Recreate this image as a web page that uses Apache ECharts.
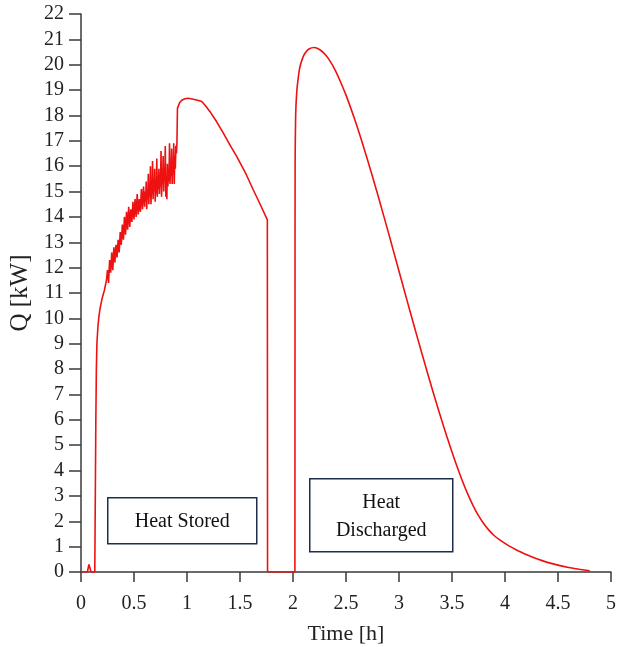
<!DOCTYPE html>
<html>
<head>
<meta charset="utf-8">
<script src="https://cdn.jsdelivr.net/npm/echarts@6/dist/echarts.min.js"></script>
<style>
html, body { margin: 0; padding: 0; background: #fff; }
#chart_q { width: 626px; height: 647px; }
</style>
</head>
<body>
<div id="chart_q"></div>
<script>
// 蓄热阶段 [时间 h, Q kW]
var storedData = [
	[0, 0], [0.06, 0], [0.075, 0.3], [0.085, 0.25], [0.095, 0], [0.13, 0], [0.135, 3], [0.14, 6],
	[0.145, 8], [0.15, 9], [0.16, 9.7], [0.17, 10.1], [0.18, 10.4], [0.2, 10.8], [0.22, 11.1], [0.24, 11.5],
	[0.25, 11.9], [0.26, 11.4], [0.27, 12.3], [0.28, 11.8], [0.29, 12.6], [0.30, 11.9], [0.31, 12.8],
	[0.32, 12.2], [0.33, 12.9], [0.34, 12.4], [0.35, 13.1], [0.36, 12.6], [0.37, 13.4], [0.38, 12.9],
	[0.39, 13.7], [0.40, 13.1], [0.41, 14.0], [0.42, 13.3], [0.43, 14.2], [0.44, 13.5], [0.45, 14.4],
	[0.46, 13.6], [0.47, 14.3], [0.48, 13.8], [0.49, 14.6], [0.50, 13.9], [0.51, 14.7], [0.52, 14.0],
	[0.53, 14.9], [0.54, 14.1], [0.55, 14.7], [0.56, 14.2], [0.57, 15.1], [0.58, 14.3], [0.59, 15.2],
	[0.600, 14.4], [0.605, 15.0], [0.610, 14.6], [0.615, 15.4], [0.620, 14.3], [0.625, 15.1],
	[0.630, 14.7], [0.635, 15.7], [0.640, 14.5], [0.645, 15.3], [0.650, 14.8], [0.655, 16.0],
	[0.660, 14.5], [0.665, 15.2], [0.670, 14.9], [0.675, 16.2], [0.680, 14.7], [0.685, 15.5],
	[0.690, 15.0], [0.695, 15.9], [0.700, 14.6], [0.705, 15.4], [0.710, 14.9], [0.715, 16.3],
	[0.720, 14.8], [0.725, 15.6], [0.730, 15.1], [0.735, 15.9], [0.740, 14.9], [0.745, 15.5],
	[0.750, 15.2], [0.755, 16.6], [0.760, 14.8], [0.765, 15.7], [0.770, 15.3], [0.775, 16.4],
	[0.780, 15.0], [0.785, 15.8], [0.790, 15.4], [0.795, 16.8], [0.800, 14.8], [0.805, 15.6],
	[0.810, 14.7], [0.815, 16.1], [0.820, 15.2], [0.825, 15.9], [0.830, 15.4], [0.835, 16.9],
	[0.840, 15.3], [0.845, 16.2], [0.850, 15.6], [0.855, 16.7], [0.860, 15.3], [0.865, 16.0],
	[0.870, 15.8], [0.875, 16.9], [0.880, 15.3], [0.885, 16.4], [0.890, 15.9], [0.895, 16.8],
	[0.900, 16.5], [0.905, 16.9], [0.908, 16.84], [0.91, 18.28], [0.93, 18.5], [0.95, 18.6],
	[0.98, 18.66], [1.01, 18.68], [1.06, 18.64], [1.1, 18.6], [1.14, 18.55], [1.18, 18.35],
	[1.217, 18.15], [1.28, 17.75], [1.343, 17.3], [1.41, 16.8], [1.47, 16.38], [1.55, 15.75],
	[1.626, 15.06], [1.69, 14.5], [1.758, 13.88], [1.76, 0], [2.018, 0]
];
// 放热阶段 [时间 h, Q kW]
var dischargedData = [
	[2.018, 0], [2.019, 10], [2.02, 16], [2.025, 18.0], [2.035, 18.9], [2.05, 19.5], [2.066, 19.93],
	[2.09, 20.25], [2.113, 20.45], [2.15, 20.62], [2.2, 20.68], [2.25, 20.6], [2.3, 20.42],
	[2.35, 20.14], [2.4, 19.77], [2.45, 19.31], [2.5, 18.8], [2.55, 18.23], [2.6, 17.62],
	[2.65, 16.97], [2.7, 16.29], [2.75, 15.59], [2.8, 14.87], [2.85, 14.13], [2.9, 13.38],
	[2.95, 12.62], [3.0, 11.86], [3.05, 11.1], [3.1, 10.34], [3.15, 9.59], [3.2, 8.85],
	[3.25, 8.12], [3.3, 7.4], [3.35, 6.7], [3.4, 6.02], [3.45, 5.36], [3.5, 4.73], [3.55, 4.13],
	[3.6, 3.57], [3.65, 3.06], [3.7, 2.61], [3.75, 2.22], [3.8, 1.9], [3.85, 1.64], [3.9, 1.43],
	[3.95, 1.27], [4.0, 1.13], [4.05, 1.0], [4.1, 0.89], [4.2, 0.69], [4.3, 0.52], [4.4, 0.38],
	[4.5, 0.27], [4.6, 0.18], [4.7, 0.11], [4.8, 0.05]
];
var xTicks = { min: 0, max: 5, step: 0.5 };
var yTicks = { min: 0, max: 22, step: 1 };

var dom = document.getElementById("chart_q");
var myChart = echarts.init(dom);

var axisColor = '#3a3a3a';
var lineColor = '#ee1111';
var fontFam = '"Liberation Serif", "Times New Roman", serif';

var option = {
	animation: false,
	backgroundColor: '#fff',
	grid: {
		left: 81,
		right: 15,
		top: 14,
		bottom: 75,
		outerBoundsMode: 'none'
	},
	xAxis: {
		type: 'value',
		min: xTicks.min,
		max: xTicks.max,
		interval: xTicks.step,
		name: 'Time [h]',
		nameLocation: 'middle',
		nameGap: 51,
		nameTextStyle: { fontFamily: fontFam, fontSize: 22, color: '#222' },
		axisLine: { onZero: false, lineStyle: { color: axisColor, width: 1.5 } },
		axisTick: { show: true, length: 10, lineStyle: { color: axisColor, width: 1.5 } },
		axisLabel: { fontFamily: fontFam, fontSize: 20, color: '#222', margin: 22 },
		splitLine: { show: false }
	},
	yAxis: {
		type: 'value',
		min: yTicks.min,
		max: yTicks.max,
		interval: yTicks.step,
		name: 'Q [kW]',
		nameLocation: 'middle',
		nameGap: 40,
		nameTextStyle: { fontFamily: fontFam, fontSize: 25, color: '#222' },
		axisLine: { show: true, lineStyle: { color: axisColor, width: 1.5 } },
		axisTick: { show: true, length: 12, lineStyle: { color: axisColor, width: 1.5 } },
		axisLabel: { fontFamily: fontFam, fontSize: 20, color: '#222', margin: 17 },
		splitLine: { show: false }
	},
	series: [
		{
			name: 'Heat Stored',
			type: 'line',
			showSymbol: false,
			symbol: 'none',
			lineStyle: { color: lineColor, width: 1.6 },
			data: storedData
		},
		{
			name: 'Heat Discharged',
			type: 'line',
			showSymbol: false,
			symbol: 'none',
			smooth: 0.25,
			lineStyle: { color: lineColor, width: 1.6 },
			data: dischargedData
		}
	],
	graphic: [
		{
			type: 'group',
			left: 107,
			top: 497,
			children: [
				{ type: 'rect', shape: { x: 0, y: 0, width: 149, height: 46 },
				  style: { fill: '#fff', stroke: '#1f2d4d', lineWidth: 1.5 } },
				{ type: 'text', x: 74.5, y: 24,
				  style: { text: 'Heat Stored', fontFamily: fontFam, fontSize: 20, fill: '#111', align: 'center', verticalAlign: 'middle' } }
			]
		},
		{
			type: 'group',
			left: 309,
			top: 478,
			children: [
				{ type: 'rect', shape: { x: 0, y: 0, width: 143, height: 73 },
				  style: { fill: '#fff', stroke: '#1f2d4d', lineWidth: 1.5 } },
				{ type: 'text', x: 71.5, y: 38,
				  style: { text: 'Heat\nDischarged', fontFamily: fontFam, fontSize: 20, lineHeight: 28, fill: '#111', align: 'center', verticalAlign: 'middle' } }
			]
		}
	]
};

myChart.setOption(option, true);
</script>
</body>
</html>
